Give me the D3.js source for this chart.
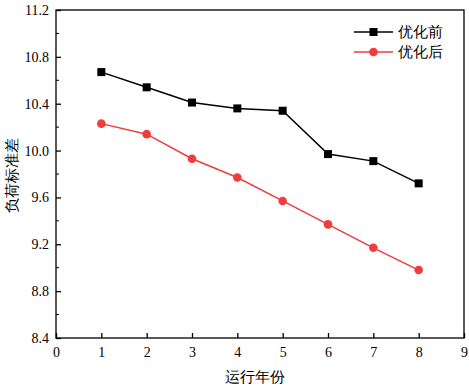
<!DOCTYPE html>
<html>
<head>
<meta charset="utf-8">
<script src="https://cdn.jsdelivr.net/npm/d3@7"></script>
</head>
<body style="margin:0;background:#fff">
<div id="chart"></div>
<script>
const years = [1, 2, 3, 4, 5, 6, 7, 8];
const before = [10.67, 10.54, 10.41, 10.36, 10.34, 9.97, 9.91, 9.72];
const after = [10.23, 10.14, 9.93, 9.77, 9.57, 9.37, 9.17, 8.98];
const xTicks = [0, 1, 2, 3, 4, 5, 6, 7, 8, 9];
const yTicks = [8.4, 8.8, 9.2, 9.6, 10.0, 10.4, 10.8, 11.2];
const seriesNames = ['优化前', '优化后'];

const font = 'Liberation Serif';
const w = 469, h = 388;
const padL = 56, padR = 464, padT = 10, padB = 338;

const svg = d3.select('#chart').append('svg')
  .attr('width', w).attr('height', h)
  .attr('font-family', font);

const xScale = d3.scaleLinear().domain([0, 9]).range([padL, padR]);
const yScale = d3.scaleLinear().domain([8.4, 11.2]).range([padB, padT]);

// frame
svg.append('rect')
  .attr('x', padL).attr('y', padT)
  .attr('width', padR - padL).attr('height', padB - padT)
  .attr('fill', 'none').attr('stroke', '#000').attr('stroke-width', 1.3);

const xAxis = d3.axisBottom(xScale).tickValues(xTicks).tickSize(-5).tickPadding(9)
  .tickFormat(d3.format('d'));
const gx = svg.append('g').attr('transform', 'translate(0,' + padB + ')').call(xAxis);

const yAxis = d3.axisLeft(yScale).tickValues(yTicks).tickSize(-5).tickPadding(7)
  .tickFormat(d3.format('.1f'));
const gy = svg.append('g').attr('transform', 'translate(' + padL + ',0)').call(yAxis);

// minor y ticks
const minor = d3.range(8.6, 11.2, 0.4);
svg.append('g').selectAll('line').data(minor).enter().append('line')
  .attr('x1', padL).attr('x2', padL + 3)
  .attr('y1', d => yScale(d)).attr('y2', d => yScale(d))
  .attr('stroke', '#000').attr('stroke-width', 1);

[gx, gy].forEach(g => {
  g.attr('font-family', font).attr('font-size', 14);
  g.select('.domain').remove();
  g.selectAll('line').attr('stroke', '#000').attr('stroke-width', 1.3);
  g.selectAll('text').attr('fill', '#000').attr('font-family', font);
});

svg.append('text').attr('x', (padL + padR) / 2 - 5).attr('y', 382)
  .attr('text-anchor', 'middle').attr('font-size', 15).text('运行年份');
svg.append('text').attr('transform', 'translate(17,175) rotate(-90)')
  .attr('text-anchor', 'middle').attr('font-size', 15).text('负荷标准差');

const line = d3.line().x((d, i) => xScale(years[i])).y(d => yScale(d));

svg.append('path').datum(before).attr('d', line)
  .attr('fill', 'none').attr('stroke', '#000').attr('stroke-width', 1.5);
svg.selectAll('.sq').data(before).enter().append('rect')
  .attr('x', (d, i) => xScale(years[i]) - 4)
  .attr('y', d => yScale(d) - 4)
  .attr('width', 8).attr('height', 8).attr('fill', '#000');

svg.append('path').datum(after).attr('d', line)
  .attr('fill', 'none').attr('stroke', '#f03c3c').attr('stroke-width', 1.5);
svg.selectAll('.ci').data(after).enter().append('circle')
  .attr('cx', (d, i) => xScale(years[i]))
  .attr('cy', d => yScale(d))
  .attr('r', 4.3).attr('fill', '#f03c3c');

// legend
const legend = svg.append('g');
const colors = ['#000', '#f03c3c'];
seriesNames.forEach((name, i) => {
  const y = 32 + i * 20;
  legend.append('line').attr('x1', 354).attr('x2', 393).attr('y1', y).attr('y2', y)
    .attr('stroke', colors[i]).attr('stroke-width', 1.5);
  if (i === 0) {
    legend.append('rect').attr('x', 369.5).attr('y', y - 4).attr('width', 8).attr('height', 8).attr('fill', colors[i]);
  } else {
    legend.append('circle').attr('cx', 373.5).attr('cy', y).attr('r', 4.3).attr('fill', colors[i]);
  }
  legend.append('text').attr('x', 398).attr('y', y + 5).attr('font-size', 15).text(name);
});
</script>
</body>
</html>
